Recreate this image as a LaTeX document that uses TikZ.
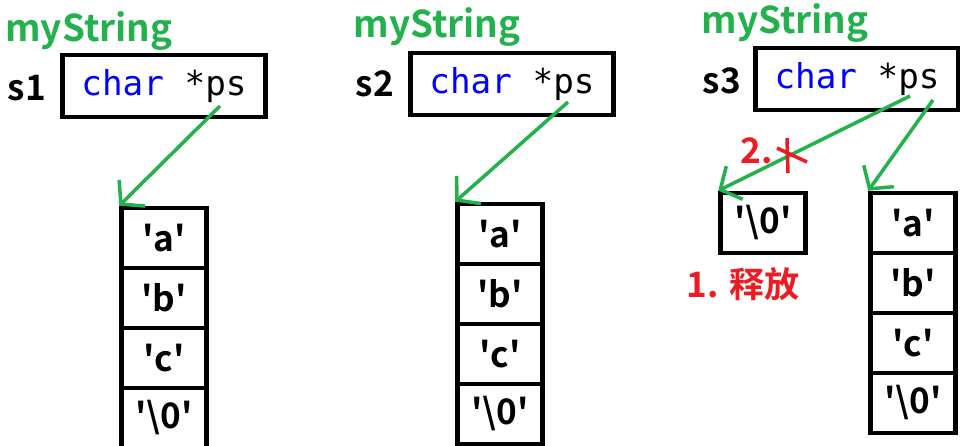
\documentclass[tikz,border=0pt]{standalone}
\usepackage{fontspec}
\setmainfont{Noto Sans CJK SC}[BoldFont={Noto Sans CJK SC Bold}]
\setmonofont{DejaVu Sans Mono}
\usetikzlibrary{arrows.meta}

\definecolor{paintgreen}{RGB}{34,177,76}
\definecolor{paintred}{RGB}{237,28,36}

% straight single quotes round a char literal
\newcommand{\chq}[1]{\textquotesingle#1\textquotesingle}

\begin{document}
\begin{tikzpicture}[x=0.02cm, y=-0.02cm,
        every node/.style={font=\bfseries\fontsize{20}{24}\selectfont},
        title/.style={text=paintgreen, font=\bfseries\fontsize{21}{24}\selectfont},
        membox/.style={draw, line width=2.6pt, minimum width=4.06cm, minimum height=1.24cm,
            font=\ttfamily\fontsize{19.5}{22}\selectfont},
        cell/.style={draw, line width=2.6pt, minimum width=1.7cm, minimum height=1.2cm, inner sep=0pt},
        ptr/.style={draw=paintgreen, line width=2pt,
            -{Straight Barb[length=9pt, width=21pt, line width=2pt]}},
        note/.style={text=paintred},
        cross/.style={draw=paintred, line width=2pt}]
        \useasboundingbox (0,0) rectangle (960,446);

        % s1
        \node[title] (t1) at (89,31) {myString};
        \node (n1) at (27,88) {s1};
        \node[membox] (b1) at (164,86) {\textcolor{blue}{char} *ps};
        \node[cell] (a1) at (164,238) {\chq{a}};
        \node[cell] (a2) at (164,298) {\chq{b}};
        \node[cell] (a3) at (164,358) {\chq{c}};
        \node[cell] (a4) at (164,418) {\chq{\textbackslash0}};
        \coordinate (p1) at (220,106);
        \draw[ptr] (p1) -- (a1.north west);

        % s2
        \node[title] (t2) at (437,27) {myString};
        \node (n2) at (375,84) {s2};
        \node[membox] (b2) at (512,84) {\textcolor{blue}{char} *ps};
        \node[cell] (c1) at (500,234) {\chq{a}};
        \node[cell] (c2) at (500,294) {\chq{b}};
        \node[cell] (c3) at (500,354) {\chq{c}};
        \node[cell] (c4) at (500,414) {\chq{\textbackslash0}};
        \coordinate (p2) at (568,102);
        \draw[ptr] (p2) -- (c1.north west);

        % s3
        \node[title] (t3) at (785,23) {myString};
        \node (n3) at (722,81) {s3};
        \node[membox] (b3) at (857,79) {\textcolor{blue}{char} *ps};
        \node[cell] (z1) at (763,223) {\chq{\textbackslash0}};
        \node[cell] (d1) at (913,223) {\chq{a}};
        \node[cell] (d2) at (913,283) {\chq{b}};
        \node[cell] (d3) at (913,343) {\chq{c}};
        \node[cell] (d4) at (913,403) {\chq{\textbackslash0}};
        \coordinate (p3) at (910,96);
        \coordinate (p4) at (933,100);
        \draw[ptr] (p3) -- (z1.north west);
        \draw[ptr] (p4) -- (d1.north west);

        % freeing the old buffer
        \node[note] (two) at (757,151) {2.};
        \coordinate (x1) at (787,138);
        \coordinate (x2) at (788,173);
        \coordinate (x3) at (777,148);
        \coordinate (x4) at (807,162);
        \draw[cross] (x1) -- (x2) (x3) -- (x4);
        \node[note] (one) at (743,284) {1. 释放};
\end{tikzpicture}
\end{document}
